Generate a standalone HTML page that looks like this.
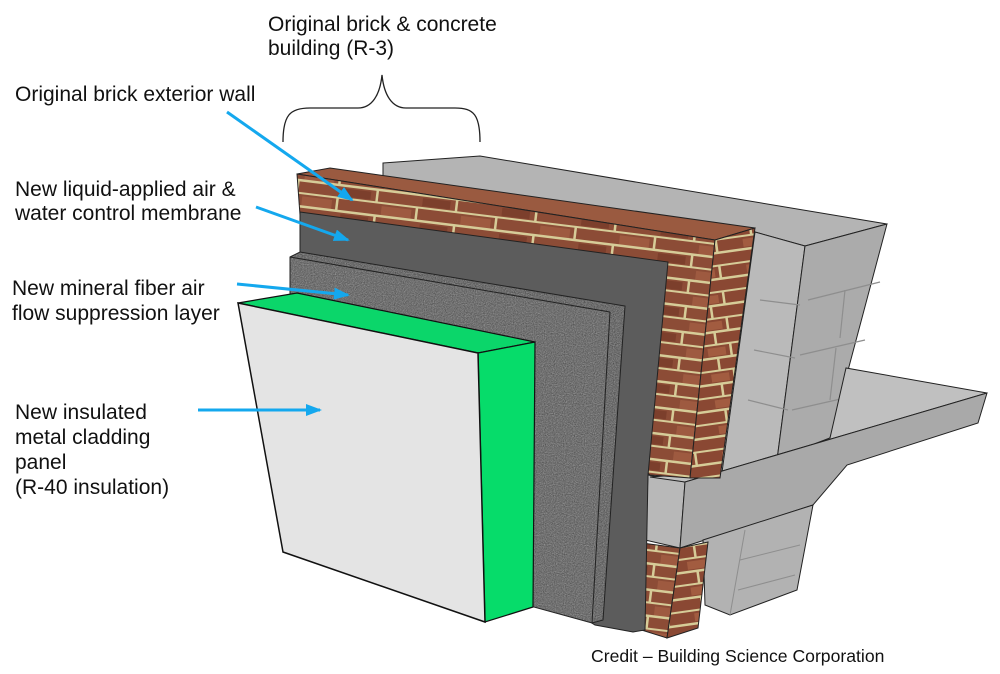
<!DOCTYPE html>
<html><head><meta charset="utf-8"><style>
html,body{margin:0;padding:0;background:#fff;}
svg{display:block;}
text{font-family:"Liberation Sans",Arial,sans-serif;fill:#111;}
</style></head><body>
<svg width="1000" height="674" viewBox="0 0 1000 674" xmlns="http://www.w3.org/2000/svg">
<defs>
<pattern id="brick" width="80" height="26" patternUnits="userSpaceOnUse" patternTransform="rotate(7)">
<rect width="80" height="26" fill="#8c4c36"/>
<rect x="4" y="2" width="30" height="9" fill="#9e5a40"/>
<rect x="44" y="15" width="28" height="8" fill="#7c3f2c"/>
<rect y="11" width="80" height="2.5" fill="#d6cc98"/>
<rect y="24" width="80" height="2.5" fill="#d6cc98"/>
<rect x="38" y="0" width="2.5" height="12" fill="#d6cc98"/>
<rect x="77" y="13" width="2.5" height="12" fill="#d6cc98"/>
</pattern>
<pattern id="brickS" width="50" height="26" patternUnits="userSpaceOnUse" patternTransform="rotate(-8)">
<rect width="50" height="26" fill="#8a4833"/>
<rect x="2" y="2" width="18" height="8" fill="#a25c40"/>
<rect y="11" width="50" height="2.5" fill="#d6cc98"/>
<rect y="24" width="50" height="2.5" fill="#d6cc98"/>
<rect x="24" y="0" width="2.5" height="12" fill="#d6cc98"/>
<rect x="10" y="13" width="2.5" height="12" fill="#d6cc98"/>
</pattern>
<filter id="noise" x="0" y="0" width="100%" height="100%">
<feTurbulence type="fractalNoise" baseFrequency="0.9" numOctaves="2" result="n"/>
<feColorMatrix type="saturate" values="0" in="n" result="g"/>
<feComponentTransfer in="g" result="g2"><feFuncA type="linear" slope="0.5"/></feComponentTransfer>
<feComposite in="g2" in2="SourceGraphic" operator="in" result="c"/>
<feMerge><feMergeNode in="SourceGraphic"/><feMergeNode in="c"/></feMerge>
</filter>
<marker id="ah" markerWidth="16" markerHeight="12" refX="14" refY="6" orient="auto" markerUnits="userSpaceOnUse">
<path d="M0,0 L16,6 L0,12 Z" fill="#14a8ee"/>
</marker>
</defs>

<!-- labels -->
<text x="268" y="31" font-size="21">Original brick &amp; concrete</text>
<text x="268" y="55" font-size="21">building (R-3)</text>
<text x="15" y="101" font-size="21">Original brick exterior wall</text>
<text x="15" y="196" font-size="21">New liquid-applied air &amp;</text>
<text x="15" y="220" font-size="21">water control membrane</text>
<text x="12" y="295" font-size="21">New mineral fiber air</text>
<text x="12" y="320" font-size="21">flow suppression layer</text>
<text x="15" y="419" font-size="21">New insulated</text>
<text x="15" y="444" font-size="21">metal cladding</text>
<text x="15" y="469" font-size="21">panel</text>
<text x="15" y="494" font-size="21">(R-40 insulation)</text>
<text x="591" y="662" font-size="17.6">Credit – Building Science Corporation</text>

<!-- brace -->
<path d="M283,142 C283,115 290,108 310,108 L358,108 C372,108 380,95 382,75 C384,95 392,108 406,108 L455,108 C474,108 480,115 480,142" fill="none" stroke="#222" stroke-width="1.3"/>

<!-- concrete back block -->
<polygon points="383,163 480,156 887,224 805,246 755,232 383,176" fill="#b4b4b4" stroke="#222" stroke-width="1"/>
<polygon points="755,232 805,246 777,460 722,472" fill="#bababa" stroke="#222" stroke-width="1"/>
<polygon points="805,246 887,224 830,438 777,460" fill="#ababab" stroke="#222" stroke-width="1"/>
<g stroke="#8e8e8e" stroke-width="1.2" fill="none">
<path d="M808,300 L880,282 M800,355 L865,340 M792,410 L845,398 M760,300 L800,305 M754,350 L795,358 M748,400 L788,410"/>
<path d="M845,290 L840,338 M836,348 L830,400"/>
</g>
<!-- slab -->
<polygon points="648,475 685,482 680,548 645,540" fill="#b8b8b8" stroke="#222" stroke-width="1"/>
<polygon points="650,477 722,472 777,458 830,438 846,368 987,393 685,482" fill="#c0c0c0" stroke="#222" stroke-width="1"/>
<polygon points="685,482 987,393 978,423 847,465 813,505 680,548" fill="#a9a9a9" stroke="#222" stroke-width="1"/>
<!-- lower concrete -->
<polygon points="703,540 813,505 797,590 730,615 705,605" fill="#b2b2b2" stroke="#222" stroke-width="1"/>
<path d="M745,530 L730,615 M740,560 L800,545 M738,590 L795,575" stroke="#8e8e8e" fill="none"/>
<!-- lower brick -->
<polygon points="642,543 680,548 667,638 635,628" fill="url(#brick)" stroke="#222" stroke-width="1"/>
<polygon points="680,548 708,542 698,628 667,638" fill="url(#brickS)" stroke="#222" stroke-width="1"/>

<!-- brick upper -->
<polygon points="297,174 330,168 755,228 715,240" fill="#9a5a40" stroke="#222" stroke-width="1"/>
<polygon points="297,174 715,240 690,478 650,475 300,215" fill="url(#brick)" stroke="#222" stroke-width="1"/>
<polygon points="715,240 755,228 720,478 690,478" fill="url(#brickS)" stroke="#222" stroke-width="1"/>

<!-- membrane -->
<polygon points="300,212 668,262 648,475 645,630 633,632 595,625 300,440" fill="#5c5c5c" stroke="#222" stroke-width="1"/>

<!-- mineral fiber -->
<g filter="url(#noise)">
<polygon points="290,257 300,252 625,306 610,312" fill="#3a3a3a"/>
<polygon points="290,257 610,312 592,623 290,540" fill="#454545"/>
<polygon points="610,312 625,306 603,620 592,623" fill="#3c3c3c"/>
</g>
<polygon points="290,257 300,252 625,306 603,620 592,623 290,540" fill="none" stroke="#222" stroke-width="1"/>
<line x1="610" y1="312" x2="592" y2="623" stroke="#222"/>
<line x1="290" y1="257" x2="610" y2="312" stroke="#222"/>

<!-- cladding -->
<polygon points="238,303 297,293 535,342 478,353" fill="#0bd66a" stroke="#111" stroke-width="1.2"/>
<polygon points="478,353 535,342 533,607 485,622" fill="#06dc6a" stroke="#111" stroke-width="1.2"/>
<polygon points="238,303 478,353 485,622 283,552" fill="#e4e4e4" stroke="#111" stroke-width="1.5"/>

<!-- arrows -->
<g stroke="#14a8ee" stroke-width="3" fill="none" marker-end="url(#ah)">
<line x1="227" y1="112" x2="352" y2="200"/>
<line x1="256" y1="207" x2="348" y2="240"/>
<line x1="237" y1="284" x2="348" y2="295"/>
<line x1="198" y1="410" x2="320" y2="410"/>
</g>
</svg>
</body></html>
